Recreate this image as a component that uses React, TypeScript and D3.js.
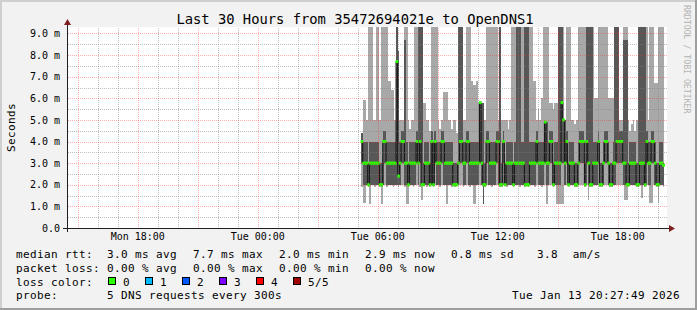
import React from "react";
import * as d3 from "d3";

// ---- data (ms), one value per 5-minute step starting Tue 05:10 UTC ----
const medianMs = [
  4,3,3,3,2,3,3,3,3,3, 3,2,2,4,4,3,3,3,3,3, 3,7.7,2.4,3,4,4,3,3,2,3, 3,3,3,4,3,4,2,2,3,3,
  3,2,4,2,4,3,3,3,4,4, 3,3,3,3,3,2,2,2,3,4, 4,3,3,4,4,3,3,3,3,3, 3,5.8,3,2,2,4,4,3,3,3,
  3,4,4,2,2,4,2,3,3,3, 3,2,3,3,3,3,3,3,2,2, 2,3,3,3,3,4,3,3,3,3, 4.9,3,3,4,4,2,3,3,3,3,
  5.8,5.0,3,4,2,3,3,3,2,2, 3,4,4,4,2,4,3,2,2,3, 3,3,4,2,2,3,4,4,3,2, 2,3,3,4,4,4,4,3,3,2,
  2,3,3,3,3,2,2,3,3,3, 2,4,3,3,4,4,3,2,2,3, 3,2.9,
];
const ping1Ms = [
  1.9,1.15,1.15,2,1.9,1.1,2,2,1.9,2, 2,1.9,1.1,2,2,1.9,2,2,2,1.9, 2,2,1.9,2,2,2,1.9,1.1,1.1,2, 2,1.9,2,2,2,1.9,1.3,2,2,1.9,
  2,1.9,2,1.9,2,2,2,1.9,2,2, 2,1.1,2,2,1.9,2,1.9,2,2,2, 2,1.9,2,2,2,1.9,2,1.1,1.1,2, 2,2,2,1.1,1.9,2,2,2,1.9,2,
  2,2,2,1.9,1.9,2,2,1.9,2,2, 2,1.9,2,2,2,1.9,2,2,1.9,2, 1.9,2,2,2,1.9,2,2,2,1.9,2, 2,1.1,2,2,2,1.9,2,1.1,1.1,1.1,
  1.1,1.1,2,2,1.9,2,2,2,1.9,1.9, 2,2,2,2,1.9,2,1.3,1.9,1.9,2, 2,2,2,1.9,1.9,2,2,2,2,1.9, 1.9,2,2,2,2,2,2,2,1.3,1.3,
  1.9,2,2,2,2,1.9,1.9,2,1.4,2, 1.9,2,2,1.15,1.15,2,2,1.9,1.15,2, 2,1.9,
];
const ping2Ms = [
  3,2,2,2,2,2,2,2,2,2, 2,2,2,2,3,2,2,2,2,2, 2,2,2,2,3,3,2,2,2,2, 2,2,2,3,2,3,2,2,2,2,
  2,2,2,2,3,2,2,2,3,2, 2,2,2,2,2,2,2,2,2,3, 3,2,2,3,2,2,2,2,2,2, 2,3,2,1.1,2,3,2,2,2,2,
  2,3,2,2,2,3,2,2,2,2, 2,2,2,2,2,2,2,2,2,2, 2,2,2,2,2,3,2,2,2,2, 3,2,2,3,3,2,2,2,2,2,
  3,3,2,3,2,2,2,2,2,2, 2,3,3,3,2,3,2,2,2,2, 2,2,3,2,2,2,3,3,2,2, 2,2,2,3,3,3,3,2,2,2,
  2,2,2,2,2,2,2,2,2,2, 2,3,2,2,3,3,2,2,2,2, 2,2,
];
const ping4Ms = [
  4.4,4,4,4,3,4,4,4,4,4, 4,3,3,4.5,4.5,4,4,4,4,4, 4,9.5,8.2,4,4.5,4.5,8.7,4,3,4, 4,4,4,4.5,9.5,9.5,9.5,3,4,4,
  4,3,4.5,4,4.5,4,4,4,4.5,4.5, 4,4,4,4,4,3,3,3,9.5,9.5, 9.5,4,4,4.5,4.5,4,4,4,4,4, 4,5.8,5.8,5.8,3,4.5,4.5,4,4,4,
  4,4.5,4.5,9.5,3,4.5,3,4,4,4, 4,3,4,9.5,9.5,9.5,4,4,9.5,9.5, 9.5,4,4,4,4,4.5,4,4,4,4, 4.9,4.9,4,4.5,4.5,3,4,4,9.5,9.5,
  9.5,5.0,5.0,4.5,3,4,4,4,3,3, 4,4.5,4.5,4.5,3,9.5,9.5,9.5,9.5,4, 4,4,4.5,3,3,4,4.5,4.5,4,3, 3,4,9.5,9.5,9.5,4.5,4.5,8.7,8.7,8.7,
  3,4,4,4,4,3,9.5,9.5,9.5,9.5, 9.5,4.5,4,4,4.5,4.5,4,3,3,4, 4,3,
];
const ping5Ms = [
  4.4,5.9,5.9,5.0,9.5,9.5,9.5,5.0,5.0,9.5, 9.5,5.0,9.5,9.5,9.5,9.5,6.8,6.8,6.4,6.4, 5.0,9.5,8.2,5.0,5.0,5.0,9.5,9.5,5.0,4.6, 5.0,5.0,9.5,9.5,9.5,9.5,9.5,5.8,5.8,5.0,
  5.0,4.5,9.5,9.5,9.5,9.5,5.0,4.6,5.0,6.3, 6.3,6.3,5.0,5.0,4.6,5.0,5.0,4.4,9.5,9.5, 9.5,5.0,5.0,9.5,9.5,9.5,6.8,6.6,6.6,6.8, 5.8,5.8,5.8,5.8,5.0,9.5,9.5,9.5,9.5,9.5,
  9.5,9.5,5.0,9.5,5.0,5.0,5.0,5.0,4.6,5.0, 9.5,9.5,9.5,9.5,9.5,9.5,9.5,9.5,9.5,9.5, 9.5,9.5,9.5,6.8,6.8,5.0,5.5,5.0,6.0,9.5, 9.5,9.5,9.5,5.8,5.8,5.5,5.8,5.8,9.5,9.5,
  9.5,9.5,5.0,9.5,9.5,9.5,5.0,5.0,4.8,5.0, 9.5,9.5,9.5,9.5,9.5,9.5,9.5,9.5,9.5,9.5, 6.0,6.0,9.5,9.5,9.5,9.5,9.5,9.5,6.0,6.0, 6.0,6.0,9.5,9.5,9.5,5.0,5.0,9.5,9.5,9.5,
  5.0,4.5,4.8,5.0,4.5,5.0,9.5,9.5,9.5,9.5, 9.5,9.5,5.0,9.5,9.5,9.5,6.7,6.7,9.5,9.5, 9.5,9.5,
];

const yMajorTicks = [0, 1, 2, 3, 4, 5, 6, 7, 8, 9];
const yMinorTicks = [0.5, 1.5, 2.5, 3.5, 4.5, 5.5, 6.5, 7.5, 8.5];

const titleText = "Last 30 Hours from 35472694021e to OpenDNS1";
const yAxisTitle = "Seconds";
const watermark = "RRDTOOL / TOBI OETIKER";
const rttLabel = "median rtt:";
const rttItems = ["3.0 ms avg", "7.7 ms max", "2.0 ms min", "2.9 ms now", "0.8 ms sd", "3.8"];
const rttUnit = "am/s";
const lossLabel = "packet loss:";
const lossItems = ["0.00 % avg", "0.00 % max", "0.00 % min", "0.00 % now"];
const lossColorLabel = "loss color:";
const lossColorNames = ["0", "1", "2", "3", "4", "5/5"];
const lossColorValues = ["#26ff00", "#00b8ff", "#0059ff", "#7e00ff", "#ff0000", "#a00000"];
const probeLabel = "probe:";
const probeText = "5 DNS requests every 300s";
const stampText = "Tue Jan 13 20:27:49 2026";

// ---- layout ----
const W = 697;
const H = 310;
const L = 67, R = 667, T = 27, B = 228;
const endTime = new Date(Date.UTC(2026, 0, 13, 20, 27, 49));
const startTime = new Date(endTime.getTime() - 30 * 3600 * 1000);
const dataStart = Date.UTC(2026, 0, 13, 5, 10, 0);
const stepMs = 300 * 1000;

const mono = "'DejaVu Sans Mono', monospace";
const GRID = "rgba(128,128,128,0.5)";
const MGRID = "rgba(255,40,40,0.38)";
const ARROW = "#801f1f";
const AXIS = "#1f1f1f";

export default function App() {
  const x = d3.scaleUtc().domain([startTime, endTime]).range([L, R]);
  const y = d3.scaleLinear().domain([0, 9.3]).range([B, T]);
  const t = (i: number) => new Date(dataStart + i * stepMs);
  const n = medianMs.length;

  const hourTicks = d3.utcHour.range(startTime, endTime);
  const majorX = hourTicks.filter((d) => d.getUTCHours() % 3 === 0);
  const minorX = hourTicks.filter((d) => d.getUTCHours() % 3 !== 0);
  const labelX = hourTicks.filter((d) => d.getUTCHours() % 6 === 0);
  const fmt = d3.utcFormat("%a %H:%M");

  const medPts: [Date, number][] = medianMs.map((v, i) => [t(i), v]);
  medPts.push([t(n), medianMs[n - 1]]);
  const medLine = d3
    .line<[Date, number]>()
    .x((d) => x(d[0]))
    .y((d) => y(d[1]))
    .curve(d3.curveStepAfter)(medPts) as string;

  const legX = 16;
  const colX0 = 107;
  const colW = 86;

  return (
    <svg
      width={W}
      height={H}
      style={{ position: "fixed", left: 0, top: 0, display: "block" }}
      fontFamily={mono}
    >
      <defs>
        <clipPath id="plotclip">
          <rect x={L} y={T} width={R - L} height={B - T} />
        </clipPath>
        <pattern id="hg" x={0} y={0} width={2} height={1} patternUnits="userSpaceOnUse">
          <rect x={0} y={0} width={1} height={1} fill={GRID} />
        </pattern>
        <pattern id="vg" x={0} y={0} width={1} height={2} patternUnits="userSpaceOnUse">
          <rect x={0} y={0} width={1} height={1} fill={GRID} />
        </pattern>
        <pattern id="hm" x={0} y={0} width={2} height={1} patternUnits="userSpaceOnUse">
          <rect x={0} y={0} width={1} height={1} fill={MGRID} />
        </pattern>
        <pattern id="vm" x={0} y={0} width={1} height={2} patternUnits="userSpaceOnUse">
          <rect x={0} y={0} width={1} height={1} fill={MGRID} />
        </pattern>
      </defs>
      {/* background + shades */}
      <rect x={0} y={0} width={W} height={H} fill="#f2f2f2" />
      <rect x={0} y={0} width={W} height={2} fill="#cfcfcf" />
      <rect x={0} y={0} width={2} height={H} fill="#cfcfcf" />
      <rect x={0} y={H - 2} width={W} height={2} fill="#9e9e9e" />
      <rect x={W - 2} y={0} width={2} height={H} fill="#9e9e9e" />
      {/* canvas */}
      <rect x={L} y={T} width={R - L} height={B - T} fill="#ffffff" />

      {/* smoke */}
      <g clipPath="url(#plotclip)" shapeRendering="crispEdges">
        {ping5Ms.map((hi, i) => (
          <rect
            key={"o" + i}
            x={x(t(i))}
            width={x(t(i + 1)) - x(t(i))}
            y={y(hi)}
            height={Math.max(0, y(ping1Ms[i]) - y(hi))}
            fill="#a8a8a8"
          />
        ))}
        {ping4Ms.map((q3, i) => (
          <rect
            key={"d" + i}
            x={x(t(i))}
            width={x(t(i + 1)) - x(t(i))}
            y={y(q3)}
            height={Math.max(0, y(ping2Ms[i]) - y(q3))}
            fill="#575757"
          />
        ))}
      </g>
      <g clipPath="url(#plotclip)">
        <path d={medLine} fill="none" stroke="#111" strokeWidth={1} />
        {medianMs.map((m, i) => (
          <rect
            key={"m" + i}
            x={x(t(i)) - 0.5}
            width={x(t(i + 1)) - x(t(i)) + 1}
            y={y(m) - 1.5}
            height={3}
            fill={lossColorValues[0]}
          />
        ))}
      </g>

      {/* grid (dotted: 1px on, 1px off) */}
      <g shapeRendering="crispEdges">
        {yMinorTicks.map((v) => (
          <rect key={"ym" + v} x={L + 1} y={Math.round(y(v))} width={R - L - 1} height={1} fill="url(#hg)" />
        ))}
        {minorX.map((d) => (
          <rect key={"xm" + d.getTime()} x={Math.round(x(d))} y={T} width={1} height={B - T} fill="url(#vg)" />
        ))}
        {yMajorTicks.filter((v) => v > 0).map((v) => (
          <rect key={"yM" + v} x={L + 1} y={Math.round(y(v))} width={R - L - 1} height={1} fill="url(#hm)" />
        ))}
        {majorX.map((d) => (
          <rect key={"xM" + d.getTime()} x={Math.round(x(d))} y={T} width={1} height={B - T} fill="url(#vm)" />
        ))}
      </g>

      {/* axes */}
      <g shapeRendering="crispEdges">
        <line x1={L - 4} x2={R + 3} y1={B + 0.5} y2={B + 0.5} stroke={AXIS} />
        <line x1={L + 0.5} x2={L + 0.5} y1={B + 4} y2={T - 4} stroke={AXIS} />
      </g>
      <path d={`M${R + 8},${B + 0.5} L${R + 2},${B - 3} L${R + 2},${B + 4} Z`} fill={ARROW} />
      <path d={`M${L + 0.5},${T - 8} L${L - 3},${T - 2} L${L + 4},${T - 2} Z`} fill={ARROW} />

      {/* y labels */}
      {yMajorTicks.map((v) => (
        <text key={"yl" + v} x={60} y={y(v) + 3.6} textAnchor="end" fontSize={10} fill="#000">
          {v === 0 ? "0.0" : `${v.toFixed(1)} m`}
        </text>
      ))}
      {/* x labels */}
      {labelX.map((d) => (
        <text key={"xl" + d.getTime()} x={x(d)} y={240} textAnchor="middle" fontSize={10} fill="#000">
          {fmt(d)}
        </text>
      ))}

      {/* title */}
      <text x={355} y={24} textAnchor="middle" fontSize={13.8} fill="#000">
        {titleText}
      </text>
      <text
        transform={`translate(15,${(T + B) / 2}) rotate(-90)`}
        textAnchor="middle"
        fontSize={11}
        letterSpacing={0.4}
        fill="#000"
      >
        {yAxisTitle}
      </text>
      <text
        transform={`translate(684,5) rotate(90)`}
        textAnchor="start"
        fontSize={8.2}
        fill="#b4b4b4"
      >
        {watermark}
      </text>

      {/* legend */}
      <g fontSize={11} letterSpacing={0.38} fill="#000">
        <text x={legX} y={258}>{rttLabel}</text>
        {rttItems.map((s, i) => (
          <text key={"r" + i} x={colX0 + i * colW} y={258}>{s}</text>
        ))}
        <text x={572.7} y={258}>{rttUnit}</text>

        <text x={legX} y={272}>{lossLabel}</text>
        {lossItems.map((s, i) => (
          <text key={"l" + i} x={colX0 + i * colW} y={272}>{s}</text>
        ))}

        <text x={legX} y={285.5}>{lossColorLabel}</text>
        {lossColorNames.map((s, i) => (
          <g key={"c" + i}>
            <rect
              x={108.5 + i * 37}
              y={277.5}
              width={7}
              height={7}
              fill={lossColorValues[i]}
              stroke="#000"
              strokeWidth={1}
              shapeRendering="crispEdges"
            />
            <text x={123 + i * 37} y={285.5}>{s}</text>
          </g>
        ))}

        <text x={legX} y={299}>{probeLabel}</text>
        <text x={colX0} y={299}>{probeText}</text>
        <text x={680} y={299} textAnchor="end">{stampText}</text>
      </g>
    </svg>
  );
}
